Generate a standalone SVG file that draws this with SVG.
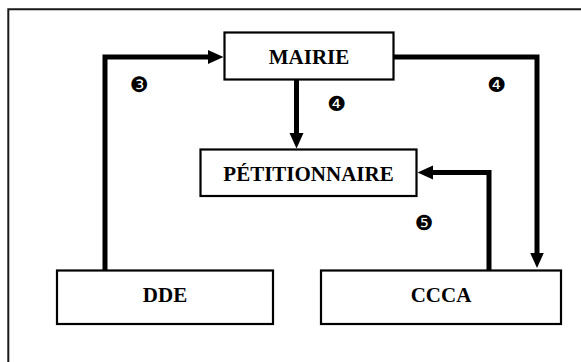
<svg xmlns="http://www.w3.org/2000/svg" width="581" height="362" viewBox="0 0 581 362">
  <style>
    .box { fill: #ffffff; stroke: #000000; stroke-width: 2.2; }
    .lbl { font-family: "Liberation Serif", "Times New Roman", "DejaVu Serif", serif; font-weight: bold; font-size: 21px; fill: #000000; text-anchor: middle; }
    .num { font-family: "DejaVu Sans", sans-serif; font-size: 21px; fill: #000000; text-anchor: middle; dominant-baseline: central; }
    .conn { fill: none; stroke: #000000; stroke-width: 5; stroke-linejoin: miter; stroke-linecap: butt; }
    .frame { fill: none; stroke: #1a1a1a; stroke-width: 2; }
  </style>
  <defs>
    <marker id="ah" markerUnits="userSpaceOnUse" markerWidth="17" markerHeight="16" viewBox="0 -8 17 16" refX="0.5" refY="0" orient="auto">
      <path d="M0,-7 L15.5,0 L0,7 z" fill="#000000"/>
    </marker>
  </defs>
  <rect x="0" y="0" width="581" height="362" fill="#ffffff"/>
  <g id="frame">
    <path class="frame" d="M8.3,362 V9.3 H581"/>
  </g>
  <g id="connectors">
    <path class="conn" d="M105,270 V57 H208.5" marker-end="url(#ah)"/>
    <path class="conn" d="M296.5,79 V133.5" marker-end="url(#ah)"/>
    <path class="conn" d="M393,57 H537 V253" marker-end="url(#ah)"/>
    <path class="conn" d="M489,270 V172.5 H432.5" marker-end="url(#ah)"/>
  </g>
  <g id="mairie">
    <rect class="box" x="224.5" y="32.5" width="169" height="47"/>
    <text class="lbl" x="309" y="64">MAIRIE</text>
  </g>
  <g id="petitionnaire">
    <rect class="box" x="200.5" y="149.5" width="216" height="46.5"/>
    <text class="lbl" x="308.5" y="180.5">PÉTITIONNAIRE</text>
  </g>
  <g id="dde">
    <rect class="box" x="57" y="270.5" width="216" height="53.5"/>
    <text class="lbl" x="165" y="301.5">DDE</text>
  </g>
  <g id="ccca">
    <rect class="box" x="321" y="270.5" width="240" height="53.5"/>
    <text class="lbl" x="441" y="301.5">CCCA</text>
  </g>
  <g id="labels">
    <text class="num" x="139.5" y="85">❸</text>
    <text class="num" x="336.7" y="104">❹</text>
    <text class="num" x="496.7" y="85">❹</text>
    <text class="num" x="424" y="223.3">❺</text>
  </g>
</svg>
